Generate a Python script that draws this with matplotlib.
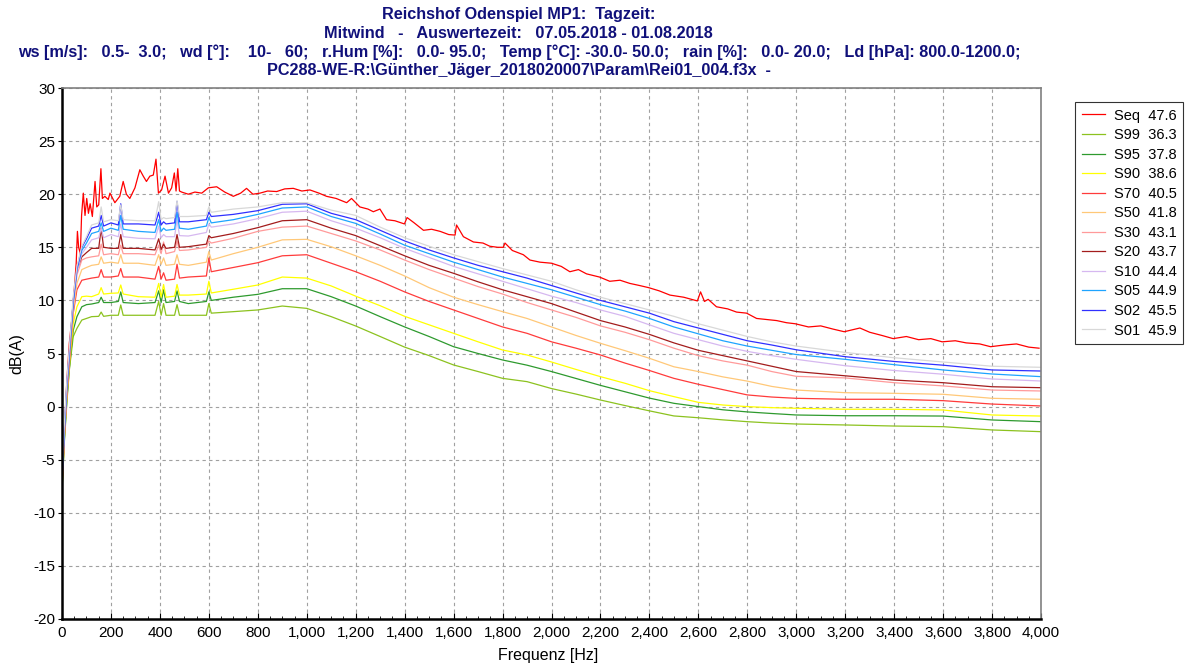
import matplotlib
matplotlib.use("Agg")
import matplotlib.pyplot as plt
from matplotlib.ticker import FuncFormatter, MultipleLocator

plt.rcParams['font.family'] = ['Liberation Sans', 'DejaVu Sans']
plt.rcParams['axes.unicode_minus'] = False

# ---------------- data ----------------
title_lines = [
    "Reichshof Odenspiel MP1:  Tagzeit:",
    "Mitwind   -   Auswertezeit:   07.05.2018 - 01.08.2018",
    "ws [m/s]:   0.5-  3.0;   wd [°]:    10-   60;   r.Hum [%]:   0.0- 95.0;   Temp [°C]: -30.0- 50.0;   rain [%]:   0.0- 20.0;   Ld [hPa]: 800.0-1200.0;",
    "PC288-WE-R:\\Günther_Jäger_2018020007\\Param\\Rei01_004.f3x  -",
]
x_label = "Frequenz [Hz]"
y_label = "dB(A)"

series_names = ["Seq", "S99", "S95", "S90", "S70", "S50", "S30", "S20", "S10", "S05", "S02", "S01"]
series_levels = ["47.6", "36.3", "37.8", "38.6", "40.5", "41.8", "43.1", "43.7", "44.4", "44.9", "45.5", "45.9"]

seq_freq = [0, 10, 20, 30, 40, 50, 58, 63, 68, 75, 80, 87, 94, 101, 108, 115, 124, 135, 142, 150,
            159, 165, 175, 189, 196, 216, 236, 250, 263, 277, 298, 318, 332, 345, 359, 373, 384, 394,
            407, 421, 435, 448, 459, 466, 473, 480, 489, 516, 543, 571, 598, 632, 665, 700, 730, 754,
            780, 809, 840, 877, 910, 945, 980, 1013, 1050, 1081, 1120, 1163, 1183, 1217, 1250, 1272,
            1299, 1326, 1360, 1399, 1410, 1439, 1477, 1510, 1545, 1580, 1606, 1612, 1640, 1681, 1720,
            1748, 1780, 1803, 1810, 1840, 1885, 1912, 1953, 2000, 2040, 2075, 2110, 2143, 2196, 2238,
            2280, 2320, 2360, 2397, 2440, 2484, 2540, 2596, 2609, 2625, 2640, 2674, 2720, 2756, 2797,
            2838, 2880, 2920, 2960, 2996, 3050, 3100, 3150, 3196, 3260, 3300, 3350, 3396, 3450, 3500,
            3550, 3596, 3650, 3694, 3750, 3794, 3850, 3900, 3950, 3992]
seq_vals = [-6.5, -2.0, 2.5, 6.0, 8.2, 11.0, 13.5, 16.5, 15.0, 14.4, 18.0, 20.1, 18.0, 19.6, 18.2, 19.1,
            17.9, 21.2, 18.8, 19.0, 22.4, 19.6, 19.8, 19.5, 20.1, 19.2, 19.8, 21.2, 20.0, 19.6, 20.6,
            22.3, 21.7, 21.2, 21.7, 21.8, 23.3, 20.1, 20.4, 21.7, 20.1, 20.6, 22.0, 20.3, 22.4, 20.3,
            20.2, 20.0, 20.2, 20.1, 20.6, 20.7, 20.2, 19.8, 20.1, 20.55, 20.0, 20.1, 20.3, 20.25, 20.5,
            20.55, 20.3, 20.4, 20.1, 19.8, 19.6, 19.2, 19.6, 18.8, 18.6, 18.35, 18.6, 17.6, 17.5, 17.2,
            17.8, 17.3, 16.6, 16.7, 16.5, 16.2, 16.15, 17.1, 16.0, 15.5, 15.4, 15.1, 15.0, 15.0, 15.4,
            14.7, 14.3, 13.8, 13.6, 13.5, 13.2, 12.7, 12.9, 12.5, 12.2, 11.8, 11.9, 11.6, 11.4, 11.2,
            10.9, 10.5, 10.3, 9.95, 10.8, 9.9, 10.1, 9.4, 9.2, 8.9, 8.8, 8.3, 8.2, 8.1, 7.9, 7.8, 7.5,
            7.6, 7.3, 7.05, 7.4, 7.0, 6.7, 6.4, 6.6, 6.3, 6.4, 6.1, 6.2, 6.0, 5.9, 5.64, 5.8, 5.9, 5.6,
            5.5]

freq = [0, 10, 20, 30, 46, 61, 81, 100, 121, 150, 160, 170, 200, 230, 240, 250, 312, 380, 395, 405,
        415, 425, 460, 470, 480, 516, 590, 600, 610, 700, 800, 900, 1000, 1100, 1200, 1300, 1400,
        1500, 1600, 1700, 1800, 1900, 2000, 2100, 2200, 2300, 2400, 2500, 2600, 2700, 2800, 2900,
        3000, 3200, 3400, 3600, 3800, 4000]

s99 = [-8.0, -3.2, 0.4, 3.45, 6.6, 7.37, 8.15, 8.3, 8.47, 8.5, 8.9, 8.5, 8.6, 8.6, 9.57, 8.6, 8.6, 8.6,
       9.9, 8.6, 9.7, 8.6, 8.6, 9.6, 8.6, 8.6, 8.6, 9.7, 8.8, 8.94, 9.1, 9.47, 9.25, 8.47, 7.59, 6.6,
       5.6, 4.8, 3.92, 3.3, 2.66, 2.35, 1.7, 1.18, 0.62, 0.1, -0.4, -0.88, -1.05, -1.25, -1.42, -1.55,
       -1.64, -1.73, -1.83, -1.89, -2.2, -2.36]
s95 = [-7.9, -3.0, 0.7, 3.6, 7.2, 8.47, 9.4, 9.6, 9.66, 9.8, 10.3, 9.8, 9.8, 9.9, 10.8, 9.8, 9.7, 9.8,
       10.9, 9.8, 11.0, 9.8, 9.9, 10.9, 9.9, 9.7, 9.9, 10.8, 10.0, 10.3, 10.57, 11.1, 11.1, 10.35,
       9.47, 8.47, 7.5, 6.6, 5.64, 5.0, 4.39, 3.9, 3.3, 2.65, 2.0, 1.4, 0.8, 0.31, 0.0, -0.3, -0.5,
       -0.65, -0.79, -0.86, -0.86, -0.89, -1.26, -1.42]
s90 = [-7.8, -2.8, 0.9, 3.8, 7.84, 9.4, 10.35, 10.4, 10.35, 10.6, 11.2, 10.6, 10.67, 10.7, 11.45, 10.6,
       10.35, 10.3, 11.6, 10.3, 11.5, 10.3, 10.4, 11.5, 10.5, 10.5, 10.6, 11.8, 10.7, 11.05, 11.45,
       12.2, 12.1, 11.36, 10.4, 9.5, 8.5, 7.7, 6.9, 6.1, 5.33, 4.86, 4.2, 3.5, 2.82, 2.2, 1.5, 0.94,
       0.4, 0.15, 0.0, -0.1, -0.16, -0.25, -0.25, -0.32, -0.79, -0.89]
s70 = [-7.7, -2.7, 1.1, 4.1, 8.8, 11.0, 11.9, 12.0, 12.1, 12.2, 12.9, 12.2, 12.2, 12.3, 13.0, 12.2,
       12.2, 12.0, 13.2, 12.0, 12.6, 11.9, 12.0, 13.4, 12.1, 12.2, 12.3, 14.0, 12.7, 13.1, 13.55,
       14.2, 14.3, 13.5, 12.7, 11.8, 10.8, 9.9, 9.1, 8.3, 7.5, 6.9, 6.1, 5.5, 4.86, 4.1, 3.4, 2.66,
       2.1, 1.6, 1.1, 0.9, 0.78, 0.69, 0.69, 0.56, 0.24, 0.06]
s50 = [-7.6, -2.6, 1.3, 4.3, 9.1, 11.6, 12.9, 13.1, 13.3, 13.4, 14.1, 13.5, 13.6, 13.5, 14.3, 13.5,
       13.5, 13.3, 14.3, 13.4, 14.0, 13.3, 13.4, 14.3, 13.4, 13.3, 13.6, 14.6, 13.8, 14.4, 15.0, 15.7,
       15.75, 15.05, 14.2, 13.3, 12.3, 11.2, 10.3, 9.6, 8.94, 8.3, 7.5, 6.7, 5.96, 5.27, 4.55, 3.75,
       3.3, 2.8, 2.4, 1.9, 1.56, 1.31, 1.25, 1.16, 0.78, 0.69]
s30 = [-7.5, -2.5, 1.5, 4.5, 9.7, 12.4, 13.8, 14.0, 14.1, 14.2, 15.3, 14.3, 14.4, 14.3, 15.2, 14.4,
       14.4, 14.3, 15.2, 14.4, 15.5, 14.4, 14.6, 15.6, 14.7, 14.75, 15.0, 15.6, 15.4, 15.85, 16.5,
       16.9, 17.0, 16.3, 15.6, 14.75, 13.8, 12.9, 12.1, 11.3, 10.6, 9.8, 9.1, 8.4, 7.6, 7.0, 6.3,
       5.5, 4.8, 4.3, 3.9, 3.3, 2.85, 2.7, 2.25, 1.95, 1.56, 1.47]
s20 = [-7.4, -2.4, 1.6, 4.6, 10.0, 12.9, 14.1, 14.5, 14.9, 14.9, 16.8, 15.0, 14.9, 14.9, 16.2, 14.9,
       14.9, 14.75, 15.8, 14.8, 15.3, 14.9, 15.0, 16.2, 15.0, 15.06, 15.3, 16.1, 15.9, 16.3, 16.85,
       17.5, 17.6, 16.8, 16.1, 15.15, 14.2, 13.3, 12.55, 11.75, 11.0, 10.35, 9.7, 8.9, 8.1, 7.5,
       6.8, 6.0, 5.3, 4.8, 4.3, 3.8, 3.3, 2.9, 2.5, 2.25, 1.87, 1.78]
s10 = [-7.2, -2.2, 1.8, 4.8, 9.7, 12.7, 14.4, 15.0, 15.7, 15.9, 16.8, 15.9, 16.2, 16.0, 17.2, 16.0,
       15.85, 15.8, 17.0, 15.9, 16.2, 16.0, 16.0, 17.6, 16.1, 16.06, 16.4, 17.2, 16.9, 17.2, 17.7,
       18.3, 18.4, 17.5, 16.8, 15.9, 14.9, 14.05, 13.2, 12.5, 11.8, 11.1, 10.4, 9.8, 9.1, 8.5, 7.7,
       6.9, 6.3, 5.7, 5.2, 4.8, 4.45, 3.85, 3.4, 3.05, 2.6, 2.41]
s05 = [-7.0, -2.0, 2.0, 5.0, 9.8, 12.9, 14.7, 15.4, 16.3, 16.5, 17.3, 16.5, 16.8, 16.6, 18.0, 16.7,
       16.5, 16.4, 17.6, 16.5, 16.8, 16.6, 16.7, 18.3, 16.8, 16.7, 17.0, 17.8, 17.3, 17.6, 18.1,
       18.7, 18.8, 17.9, 17.25, 16.25, 15.2, 14.4, 13.6, 12.9, 12.2, 11.6, 11.0, 10.3, 9.6, 9.0,
       8.3, 7.5, 6.85, 6.2, 5.7, 5.3, 4.9, 4.45, 3.95, 3.45, 3.07, 2.82]
s02 = [-6.8, -1.8, 2.2, 5.2, 10.0, 13.0, 15.0, 15.8, 16.8, 17.0, 18.0, 17.0, 17.3, 17.1, 19.1, 17.2,
       17.2, 17.1, 18.3, 17.1, 17.4, 17.2, 17.3, 19.3, 17.4, 17.4, 17.6, 18.3, 17.9, 18.1, 18.45,
       19.05, 19.1, 18.2, 17.6, 16.6, 15.6, 14.75, 14.0, 13.3, 12.7, 12.1, 11.4, 10.7, 10.0, 9.4,
       8.8, 8.0, 7.4, 6.8, 6.2, 5.8, 5.35, 4.7, 4.25, 3.9, 3.45, 3.35]
s01 = [-6.5, -1.5, 2.5, 5.5, 10.4, 13.2, 15.1, 16.0, 17.1, 17.3, 18.8, 17.4, 17.6, 17.5, 19.0, 17.6,
       17.5, 17.5, 19.3, 17.6, 17.8, 17.7, 17.8, 19.4, 17.9, 17.9, 18.0, 18.8, 18.3, 18.6, 18.8,
       19.2, 19.2, 18.5, 18.0, 16.9, 15.9, 15.1, 14.3, 13.65, 13.0, 12.4, 11.8, 11.0, 10.3, 9.7,
       9.1, 8.5, 7.8, 7.2, 6.6, 6.1, 5.7, 5.1, 4.6, 4.2, 3.8, 3.7]

y_ticks = [-20, -15, -10, -5, 0, 5, 10, 15, 20, 25, 30]
x_ticks = list(range(0, 4001, 200))

# ---------------- styles ----------------
colors = {
    "Seq": "#ff0000", "S99": "#8cc21f", "S95": "#2e9a2e", "S90": "#ffff00",
    "S70": "#ff3b3b", "S50": "#ffc878", "S30": "#ff9a9a", "S20": "#a31c1c",
    "S10": "#d6b8f0", "S05": "#1ea4ff", "S02": "#3030ff", "S01": "#d8d8d8",
}

percentiles = {"S99": s99, "S95": s95, "S90": s90, "S70": s70, "S50": s50, "S30": s30,
               "S20": s20, "S10": s10, "S05": s05, "S02": s02, "S01": s01}

fig = plt.figure(figsize=(11.9, 6.64), dpi=100)
ax = fig.add_axes([62 / 1190, 1 - 619 / 664, (1041 - 62) / 1190, (619 - 88) / 664])

handles = []
for name, lvl in zip(series_names, series_levels):
    if name == "Seq":
        xs, ys = seq_freq, seq_vals
    else:
        xs, ys = freq, percentiles[name]
    h, = ax.plot(xs, ys, color=colors[name], lw=0.9, label=f"{name}  {lvl}")
    handles.append(h)

ax.set_xlim(0, 4000)
ax.set_ylim(-20, 30)
ax.set_xticks(x_ticks)
ax.xaxis.set_major_formatter(FuncFormatter(lambda v, p: f"{int(v):,}"))
ax.xaxis.set_minor_locator(MultipleLocator(50))
ax.set_yticks(y_ticks)
ax.tick_params(axis='x', which='major', direction='in', length=4, labelsize=11, pad=5)
ax.tick_params(axis='x', which='minor', direction='in', length=2)
ax.tick_params(axis='y', which='major', direction='out', length=3, labelsize=11, pad=2)
ax.grid(True, which='major', color='#a0a0a0', linestyle=(0, (3, 3)), linewidth=0.8)

for side in ['left', 'bottom']:
    ax.spines[side].set_color('black')
    ax.spines[side].set_linewidth(1.8)
for side in ['top', 'right']:
    ax.spines[side].set_color('#808080')
    ax.spines[side].set_linewidth(1.2)

ax.set_xlabel(x_label, fontsize=11.5, labelpad=2)
ax.xaxis.set_label_coords(0.497, -0.055)
ax.set_ylabel(y_label, fontsize=11.5, labelpad=6)

title_y = [14, 33, 52, 71]
for line, yp in zip(title_lines, title_y):
    fig.text(0.436, 1 - yp / 664, line, ha='center', va='center', fontsize=11.7,
             fontweight='bold', color='#10107a')

leg = fig.legend(handles=handles, loc='upper left', bbox_to_anchor=(1075 / 1190, 1 - 102 / 664),
                 fontsize=10.5, frameon=True, fancybox=False, shadow=False, borderpad=0.45,
                 labelspacing=0.38, handlelength=1.6, handletextpad=0.6, borderaxespad=0)
leg.get_frame().set_edgecolor('black')
leg.get_frame().set_linewidth(0.8)

fig.savefig("out.png", dpi=100)
